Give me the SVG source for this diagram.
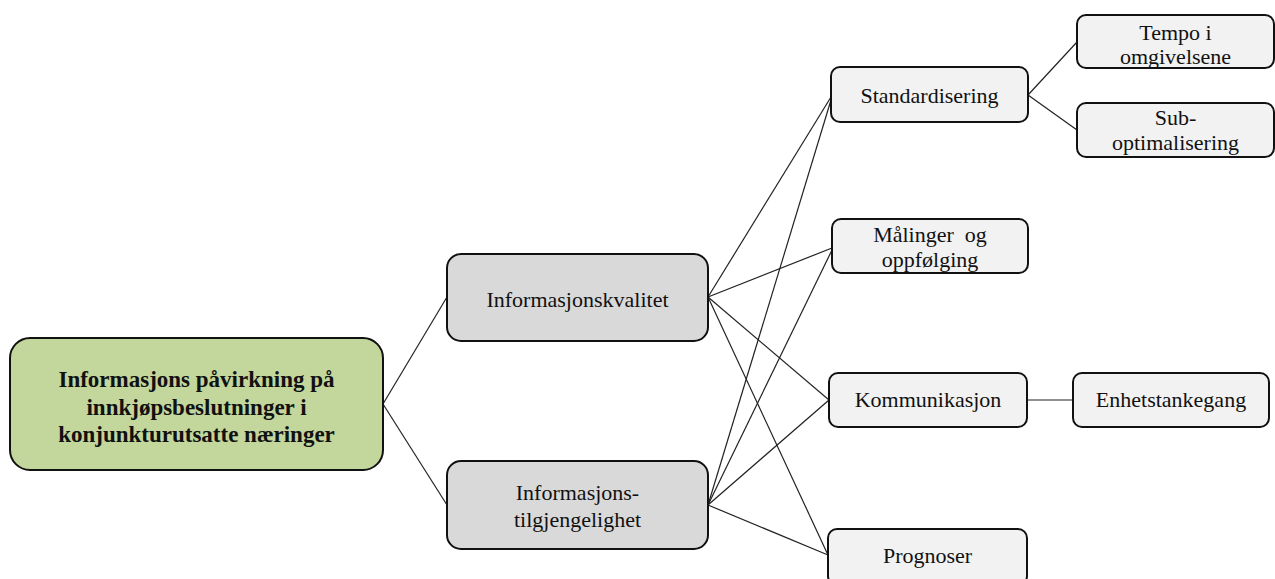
<svg xmlns="http://www.w3.org/2000/svg" width="1275" height="579" viewBox="0 0 1275 579">
<style>
  .box { stroke: #111; stroke-width: 2; }
  .root { fill: #c3d69b; }
  .mid { fill: #d9d9d9; }
  .leaf { fill: #f2f2f2; }
  .t { font-family: "Liberation Serif", "Times New Roman", serif; font-size: 22px; fill: #111; text-anchor: middle; white-space: pre; }
  .b { font-weight: bold; font-size: 23px; }
  .conn line { stroke: #222; stroke-width: 1.2; }
</style>
<rect width="1275" height="579" fill="#fff"/>
<g id="connectors" class="conn">
  <line x1="383" y1="404" x2="447" y2="297"/>
  <line x1="383" y1="404" x2="447" y2="505"/>
  <line x1="708" y1="297" x2="831" y2="97"/>
  <line x1="708" y1="297" x2="832" y2="248"/>
  <line x1="708" y1="297" x2="829" y2="400"/>
  <line x1="708" y1="297" x2="828" y2="555"/>
  <line x1="708" y1="505" x2="831" y2="100"/>
  <line x1="708" y1="505" x2="832" y2="250"/>
  <line x1="708" y1="505" x2="829" y2="400"/>
  <line x1="708" y1="505" x2="828" y2="555"/>
  <line x1="1028" y1="95" x2="1077" y2="42"/>
  <line x1="1028" y1="95" x2="1077" y2="130"/>
  <line x1="1027" y1="400" x2="1073" y2="400"/>
</g>
<g id="root">
  <rect class="box root" x="10" y="338" width="373" height="132" rx="20"/>
  <text class="t b" x="196.5" y="387">Informasjons påvirkning på</text>
  <text class="t b" x="196.5" y="415">innkjøpsbeslutninger i</text>
  <text class="t b" x="196.5" y="442">konjunkturutsatte næringer</text>
</g>
<g id="informasjonskvalitet">
  <rect class="box mid" x="447" y="254" width="261" height="87" rx="14"/>
  <text class="t" x="577.5" y="307">Informasjonskvalitet</text>
</g>
<g id="informasjonstilgjengelighet">
  <rect class="box mid" x="447" y="461" width="261" height="88" rx="14"/>
  <text class="t" x="577.5" y="500">Informasjons-</text>
  <text class="t" x="577.5" y="527">tilgjengelighet</text>
</g>
<g id="standardisering">
  <rect class="box leaf" x="831" y="67" width="197" height="55" rx="9"/>
  <text class="t" x="929.5" y="103">Standardisering</text>
</g>
<g id="tempo">
  <rect class="box leaf" x="1077" y="15" width="197" height="53" rx="9"/>
  <text class="t" x="1175.5" y="40">Tempo i</text>
  <text class="t" x="1175.5" y="64">omgivelsene</text>
</g>
<g id="suboptimalisering">
  <rect class="box leaf" x="1077" y="103" width="197" height="54" rx="9"/>
  <text class="t" x="1175.5" y="125">Sub-</text>
  <text class="t" x="1175.5" y="150">optimalisering</text>
</g>
<g id="malinger">
  <rect class="box leaf" x="832" y="219" width="196" height="54" rx="9"/>
  <text class="t" x="930" y="242">Målinger  og</text>
  <text class="t" x="930" y="267">oppfølging</text>
</g>
<g id="kommunikasjon">
  <rect class="box leaf" x="829" y="373" width="198" height="54" rx="9"/>
  <text class="t" x="928" y="407">Kommunikasjon</text>
</g>
<g id="enhetstankegang">
  <rect class="box leaf" x="1073" y="373" width="196" height="54" rx="9"/>
  <text class="t" x="1171" y="407">Enhetstankegang</text>
</g>
<g id="prognoser">
  <rect class="box leaf" x="828" y="529" width="199" height="56" rx="9"/>
  <text class="t" x="927.5" y="563">Prognoser</text>
</g>
</svg>
